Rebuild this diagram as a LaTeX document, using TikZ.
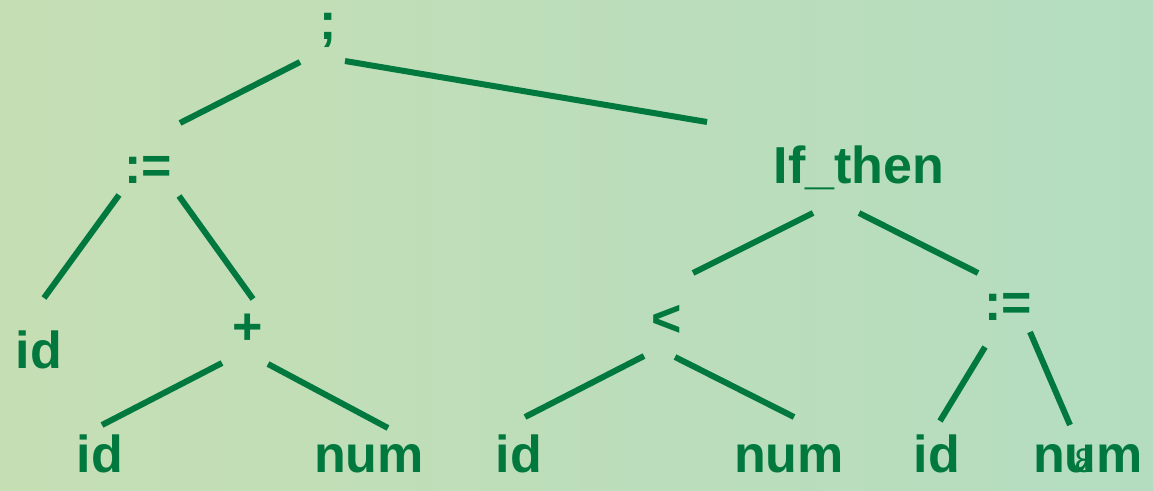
\documentclass[tikz,border=0pt]{standalone}
\usepackage{fontspec}
\setmainfont{Liberation Sans}
\definecolor{ink}{RGB}{0,120,62}
\definecolor{bgleft}{RGB}{198,222,180}
\definecolor{bgright}{RGB}{180,221,192}
\begin{document}
\begin{tikzpicture}[x=1pt,y=-1pt,
  lbl/.style={inner sep=0pt,text=ink,font=\fontsize{52}{60}\selectfont\bfseries},
  word/.style={lbl,anchor=base},
  sym/.style={lbl,anchor=center},
  edge/.style={draw=ink,line width=6pt}]
  % background
  \useasboundingbox (0,0) rectangle (1153,490);
  \shade[left color=bgleft,right color=bgright] (0,0) rectangle (1153,490);

  % tree labels
  \node[sym]  (semi)  at (328,30)  {;};
  \node[sym]  (asgA)  at (148,170) {:=};
  \node[word] (ifth)  at (859,183) {If\_then};
  \node[word] (idA)   at (39,368)  {id};
  \node[sym]  (plus)  at (248,329) {+};
  \node[sym]  (less)  at (667,321) {<};
  \node[sym]  (asgB)  at (1008,307) {:=};
  \node[word] (idB)   at (100,472) {id};
  \node[word] (numB)  at (369,472) {num};
  \node[word] (idC)   at (519,472) {id};
  \node[word] (numC)  at (789,472) {num};
  \node[word] (idD)   at (937,472) {id};
  \node[word] (numD)  at (1088,472) {num};
  \node[anchor=base,inner sep=0pt,text=ink,font=\fontsize{34}{40}\selectfont] (pg) at (1084,472) {8};

  % connector end points
  \coordinate (semi-l) at (300,62);   \coordinate (asgA-t) at (180,123);
  \coordinate (semi-r) at (345,61);   \coordinate (ifth-t) at (707,122);
  \coordinate (asgA-l) at (119,195);  \coordinate (idA-t)  at (44,298);
  \coordinate (asgA-r) at (179,196);  \coordinate (plus-t) at (253,299);
  \coordinate (plus-l) at (222,363);  \coordinate (idB-t)  at (102,425);
  \coordinate (plus-r) at (268,364);  \coordinate (numB-t) at (388,428);
  \coordinate (ifth-l) at (813,213);  \coordinate (less-t) at (693,273);
  \coordinate (ifth-r) at (859,213);  \coordinate (asgB-t) at (978,273);
  \coordinate (less-l) at (644,356);  \coordinate (idC-t)  at (525,417);
  \coordinate (less-r) at (675,357);  \coordinate (numC-t) at (794,417);
  \coordinate (asgB-l) at (985,347);  \coordinate (idD-t)  at (940,421);
  \coordinate (asgB-r) at (1030,332); \coordinate (numD-t) at (1070,425);

  % connectors
  \draw[edge] (semi-l) -- (asgA-t);
  \draw[edge] (semi-r) -- (ifth-t);
  \draw[edge] (asgA-l) -- (idA-t);
  \draw[edge] (asgA-r) -- (plus-t);
  \draw[edge] (plus-l) -- (idB-t);
  \draw[edge] (plus-r) -- (numB-t);
  \draw[edge] (ifth-l) -- (less-t);
  \draw[edge] (ifth-r) -- (asgB-t);
  \draw[edge] (less-l) -- (idC-t);
  \draw[edge] (less-r) -- (numC-t);
  \draw[edge] (asgB-l) -- (idD-t);
  \draw[edge] (asgB-r) -- (numD-t);
\end{tikzpicture}
\end{document}
